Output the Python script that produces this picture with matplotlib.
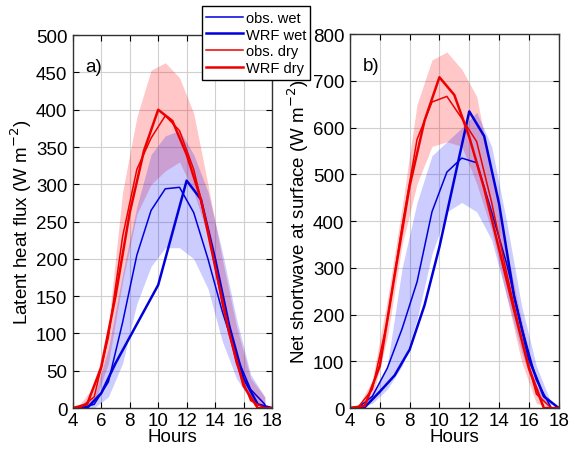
import numpy as np
import matplotlib
matplotlib.use('Agg')
import matplotlib.pyplot as plt

plt.rcParams['font.family'] = ['Liberation Sans', 'DejaVu Sans']

# hours: WRF output on the hour, observations on the half hour
wrf_hours = [4, 5, 6, 7, 8, 9, 10, 11, 12, 13, 14, 15, 16, 17, 18]
obs_hours = [4.5, 5.5, 6.5, 7.5, 8.5, 9.5, 10.5, 11.5, 12.5, 13.5, 14.5, 15.5, 16.5, 17.5]

# a) latent heat flux (W m-2)
lh_obs_wet = [0, 5, 35, 115, 205, 265, 294, 296, 262, 200, 130, 70, 25, 5]
lh_wrf_wet = [0, 0, 20, 60, 95, 130, 165, 235, 305, 280, 200, 110, 40, 5, 0]
lh_obs_dry = [0, 15, 95, 230, 320, 362, 392, 372, 320, 240, 140, 60, 10, 0]
lh_wrf_dry = [0, 5, 55, 150, 262, 345, 400, 385, 340, 280, 190, 100, 30, 0, 0]
lh_wet_lo = [0, 0, 15, 60, 140, 190, 215, 215, 200, 160, 90, 40, 10, 0]
lh_wet_hi = [5, 15, 80, 180, 270, 340, 365, 372, 340, 290, 210, 120, 45, 15]
lh_dry_lo = [0, 5, 60, 170, 260, 300, 318, 330, 290, 230, 150, 70, 10, 0]
lh_dry_hi = [5, 30, 110, 290, 390, 453, 463, 443, 395, 300, 200, 110, 40, 15]

# b) net shortwave at surface (W m-2)
sw_obs_wet = [0, 25, 85, 170, 270, 420, 505, 535, 525, 420, 310, 175, 60, 0]
sw_wrf_wet = [0, 2, 35, 70, 125, 220, 345, 490, 635, 582, 437, 240, 105, 25, 0]
sw_obs_dry = [0, 40, 185, 390, 575, 655, 667, 620, 570, 440, 290, 150, 30, 0]
sw_wrf_dry = [0, 5, 90, 285, 475, 615, 708, 670, 580, 470, 340, 210, 85, 0, 0]
sw_wet_lo = [0, 10, 40, 90, 190, 330, 420, 440, 420, 360, 240, 120, 30, 0]
sw_wet_hi = [0, 30, 90, 300, 440, 540, 570, 600, 633, 560, 400, 220, 90, 10]
sw_dry_lo = [0, 20, 150, 350, 480, 560, 570, 560, 480, 380, 240, 100, 10, 0]
sw_dry_hi = [0, 60, 230, 430, 650, 745, 762, 725, 667, 500, 340, 190, 50, 0]

fig = plt.figure(figsize=(5.69, 4.52), dpi=100)
ax1 = fig.add_axes([0.128, 0.095, 0.350, 0.825])
ax2 = fig.add_axes([0.615, 0.095, 0.367, 0.827])

panels = [
    (ax1, lh_obs_wet, lh_wrf_wet, lh_obs_dry, lh_wrf_dry,
     lh_wet_lo, lh_wet_hi, lh_dry_lo, lh_dry_hi, 500, 50,
     'Latent heat flux (W m$^{-2}$)', 'a)'),
    (ax2, sw_obs_wet, sw_wrf_wet, sw_obs_dry, sw_wrf_dry,
     sw_wet_lo, sw_wet_hi, sw_dry_lo, sw_dry_hi, 800, 100,
     'Net shortwave at surface (W m$^{-2}$)', 'b)'),
]

for (ax, ow, ww, od, wd, wlo, whi, dlo, dhi, ymax, ystep, ylab, tag) in panels:
    ax.fill_between(obs_hours, dlo, dhi, color='#ff0000', alpha=0.22, lw=0)
    ax.fill_between(obs_hours, wlo, whi, color='#0000ff', alpha=0.2, lw=0)
    l1, = ax.plot(obs_hours, ow, color='#0000dd', lw=1.1, label='obs. wet')
    l2, = ax.plot(wrf_hours, ww, color='#0000dd', lw=1.8, label='WRF wet')
    l3, = ax.plot(obs_hours, od, color='#ee0000', lw=1.1, label='obs. dry')
    l4, = ax.plot(wrf_hours, wd, color='#ee0000', lw=1.8, label='WRF dry')
    ax.set_xlim(4, 18)
    ax.set_ylim(0, ymax)
    ax.set_xticks(np.arange(4, 19, 2))
    ax.set_yticks(np.arange(0, ymax + 1, ystep))
    ax.grid(True, color='#d0d0d0', lw=0.8)
    ax.set_axisbelow(True)
    ax.tick_params(direction='in', top=True, right=True, labelsize=13.5,
                   length=4, width=0.8)
    ax.tick_params(axis='y', pad=4)
    ax.tick_params(axis='x', pad=3)
    for s in ax.spines.values():
        s.set_linewidth(1.0)
        s.set_color('#333333')
    ax.set_xlabel('Hours', fontsize=13.5, labelpad=-1)
    ax.set_ylabel(ylab, fontsize=13.5, labelpad=1)
    ax.text(0.06, 0.905, tag, transform=ax.transAxes, fontsize=13.5)

leg = fig.legend(handles=[l1, l2, l3, l4], loc='upper left',
                 bbox_to_anchor=(0.355, 0.984), fontsize=10.5, frameon=True,
                 fancybox=False, edgecolor='black', framealpha=1,
                 handlelength=2.5, handletextpad=0.2, borderpad=0.3,
                 labelspacing=0.2, borderaxespad=0)
leg.get_frame().set_linewidth(1.0)

fig.savefig('out.png', dpi=100)
